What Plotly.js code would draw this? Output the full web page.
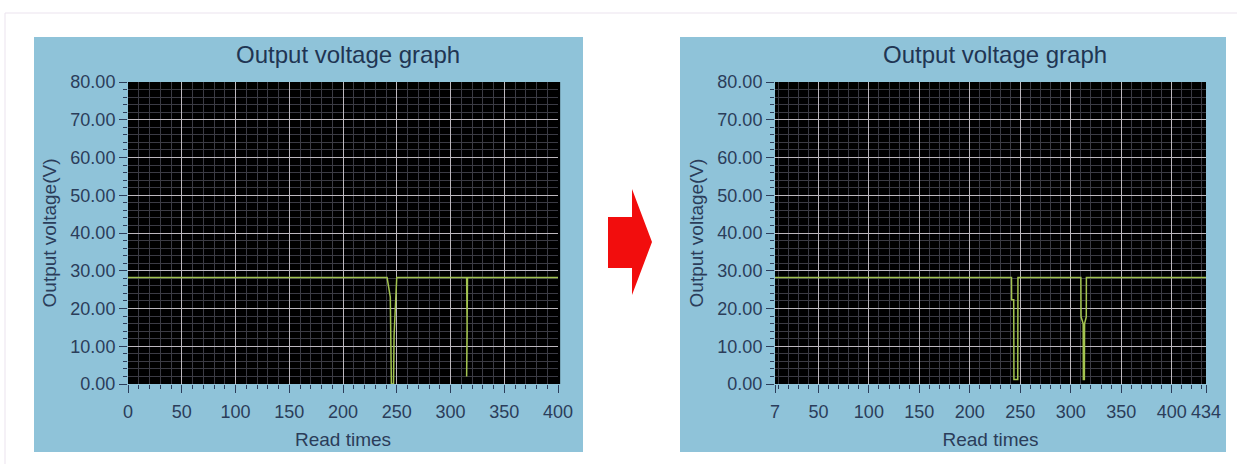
<!DOCTYPE html>
<html>
<head>
<meta charset="utf-8">
<script src="https://cdn.plot.ly/plotly-3.0.1.min.js"></script>
<style>
  html, body { margin: 0; padding: 0; background: #ffffff; }
  #chart { width: 1237px; height: 464px; }
</style>
</head>
<body>
<div id="chart"></div>
<script>
const leftReadTimes  = [0, 241, 244, 245, 247, 247.5, 250, 315, 315.5, 315, 315.8, 400];
const leftVoltage    = [28.2, 28.2, 23, 0, 0, 12.8, 28.2, 28.2, 14, 2, 28.2, 28.2];

const rightReadTimes = [7, 241.3, 241.4, 243.5, 243.7, 247.5, 247.7, 310, 310.2, 312.3, 312.5, 313.5, 313.7, 315.4, 315.5, 434];
const rightVoltage   = [28.2, 28.2, 22.3, 22.3, 1.2, 1.2, 28.2, 28.2, 17.8, 16, 1.2, 1.2, 16, 17.8, 28.2, 28.2];

const chartTitle = "Output voltage graph";
const xTitle = "Read times";
const yTitle = "Output voltage(V)";
const leftXTicks  = [0, 50, 100, 150, 200, 250, 300, 350, 400];
const rightXTicks = [7, 50, 100, 150, 200, 250, 300, 350, 400, 434];
const leftXRange  = [0, 400];
const rightXRange = [7, 434];
const yRange = [0, 80];

// ---- Layout helpers (pixel -> paper) ----
const W = 1237, H = 464;
const px = x => x / W;
const py = y => 1 - y / H;

const tickColor = '#2b3d5a';
const fontFam = '"Liberation Sans", Arial, sans-serif';
const lineColor = '#a3c450';

function xAxis(domain, range, ticks) {
  return {
    domain: domain, range: range, tickvals: ticks, ticktext: ticks.map(String),
    ticks: 'outside', ticklen: 8, tickwidth: 1, tickcolor: tickColor,
    ticklabelstandoff: 3,
    showgrid: true, gridcolor: '#bdb8be', gridwidth: 1,
    zeroline: false, showline: false,
    minor: { dtick: 10, tick0: 0, ticks: 'outside', ticklen: 4, tickcolor: tickColor,
             showgrid: true, gridcolor: '#3b3b44', gridwidth: 1 },
    tickfont: { family: fontFam, size: 18, color: tickColor },
    title: { text: xTitle, font: { family: fontFam, size: 19, color: tickColor }, standoff: 12 },
    fixedrange: true
  };
}
function yAxis(domain, anchor) {
  return {
    domain: domain, range: yRange, dtick: 10, tick0: 0, tickformat: '.2f', anchor: anchor,
    ticks: 'outside', ticklen: 8, tickwidth: 1, tickcolor: tickColor,
    showgrid: true, gridcolor: '#bdb8be', gridwidth: 1,
    zeroline: false, showline: false,
    minor: { dtick: 2, ticks: 'outside', ticklen: 4, tickcolor: tickColor,
             showgrid: true, gridcolor: '#3b3b44', gridwidth: 1 },
    tickfont: { family: fontFam, size: 18, color: tickColor },
    title: { text: yTitle, font: { family: fontFam, size: 19, color: tickColor }, standoff: 8 },
    fixedrange: true
  };
}

const yDom = [py(384), py(82)];

const traces = [
  { x: leftReadTimes, y: leftVoltage, xaxis: 'x', yaxis: 'y', type: 'scatter', mode: 'lines',
    line: { color: lineColor, width: 1.5 }, showlegend: false, hoverinfo: 'skip' },
  { x: rightReadTimes, y: rightVoltage, xaxis: 'x2', yaxis: 'y2', type: 'scatter', mode: 'lines',
    line: { color: lineColor, width: 1.5 }, showlegend: false, hoverinfo: 'skip' }
];

const panelBlue = '#8fc3d9';
const shapes = [
  // faint outer frame
  { type: 'rect', xref: 'paper', yref: 'paper', x0: px(5), x1: 1.05, y0: -0.05, y1: py(13),
    line: { color: '#ebe3ee', width: 1 }, fillcolor: 'rgba(0,0,0,0)', layer: 'below' },
  // blue panels
  { type: 'rect', xref: 'paper', yref: 'paper', x0: px(34), x1: px(583), y0: py(452), y1: py(37),
    line: { width: 0 }, fillcolor: panelBlue, layer: 'below' },
  { type: 'rect', xref: 'paper', yref: 'paper', x0: px(680), x1: px(1226), y0: py(452), y1: py(37),
    line: { width: 0 }, fillcolor: panelBlue, layer: 'below' },
  // black plot areas
  { type: 'rect', xref: 'x domain', yref: 'y domain', x0: 0, x1: 1.005, y0: 0, y1: 1,
    line: { width: 0 }, fillcolor: '#000000', layer: 'below' },
  { type: 'rect', xref: 'x2 domain', yref: 'y2 domain', x0: 0, x1: 1, y0: 0, y1: 1,
    line: { width: 0 }, fillcolor: '#000000', layer: 'below' },
  // red arrow
  { type: 'path', xref: 'paper', yref: 'paper',
    path: 'M ' + px(608) + ',' + py(217) + ' L ' + px(632) + ',' + py(217) +
          ' L ' + px(632) + ',' + py(189) + ' L ' + px(652) + ',' + py(242) +
          ' L ' + px(632) + ',' + py(295) + ' L ' + px(632) + ',' + py(268) +
          ' L ' + px(608) + ',' + py(268) + ' Z',
    fillcolor: '#f20d0d', line: { width: 0 }, layer: 'above' }
];

const annotations = [
  { text: chartTitle, xref: 'paper', yref: 'paper', x: px(348), y: py(54), showarrow: false,
    xanchor: 'center', yanchor: 'middle', font: { family: fontFam, size: 24, color: '#1f3553' } },
  { text: chartTitle, xref: 'paper', yref: 'paper', x: px(995), y: py(54), showarrow: false,
    xanchor: 'center', yanchor: 'middle', font: { family: fontFam, size: 24, color: '#1f3553' } }
];

const layout = {
  width: W, height: H,
  margin: { l: 0, r: 0, t: 0, b: 0 },
  paper_bgcolor: '#ffffff', plot_bgcolor: '#000000',
  showlegend: false, hovermode: false,
  xaxis: xAxis([px(128), px(558)], leftXRange, leftXTicks),
  yaxis: yAxis(yDom, 'x'),
  xaxis2: Object.assign(xAxis([px(775), px(1206)], rightXRange, rightXTicks), { anchor: 'y2' }),
  yaxis2: yAxis(yDom, 'x2'),
  shapes: shapes,
  annotations: annotations
};
layout.xaxis.anchor = 'y';

Plotly.newPlot('chart', traces, layout, { staticPlot: true, displayModeBar: false });
</script>
</body>
</html>
